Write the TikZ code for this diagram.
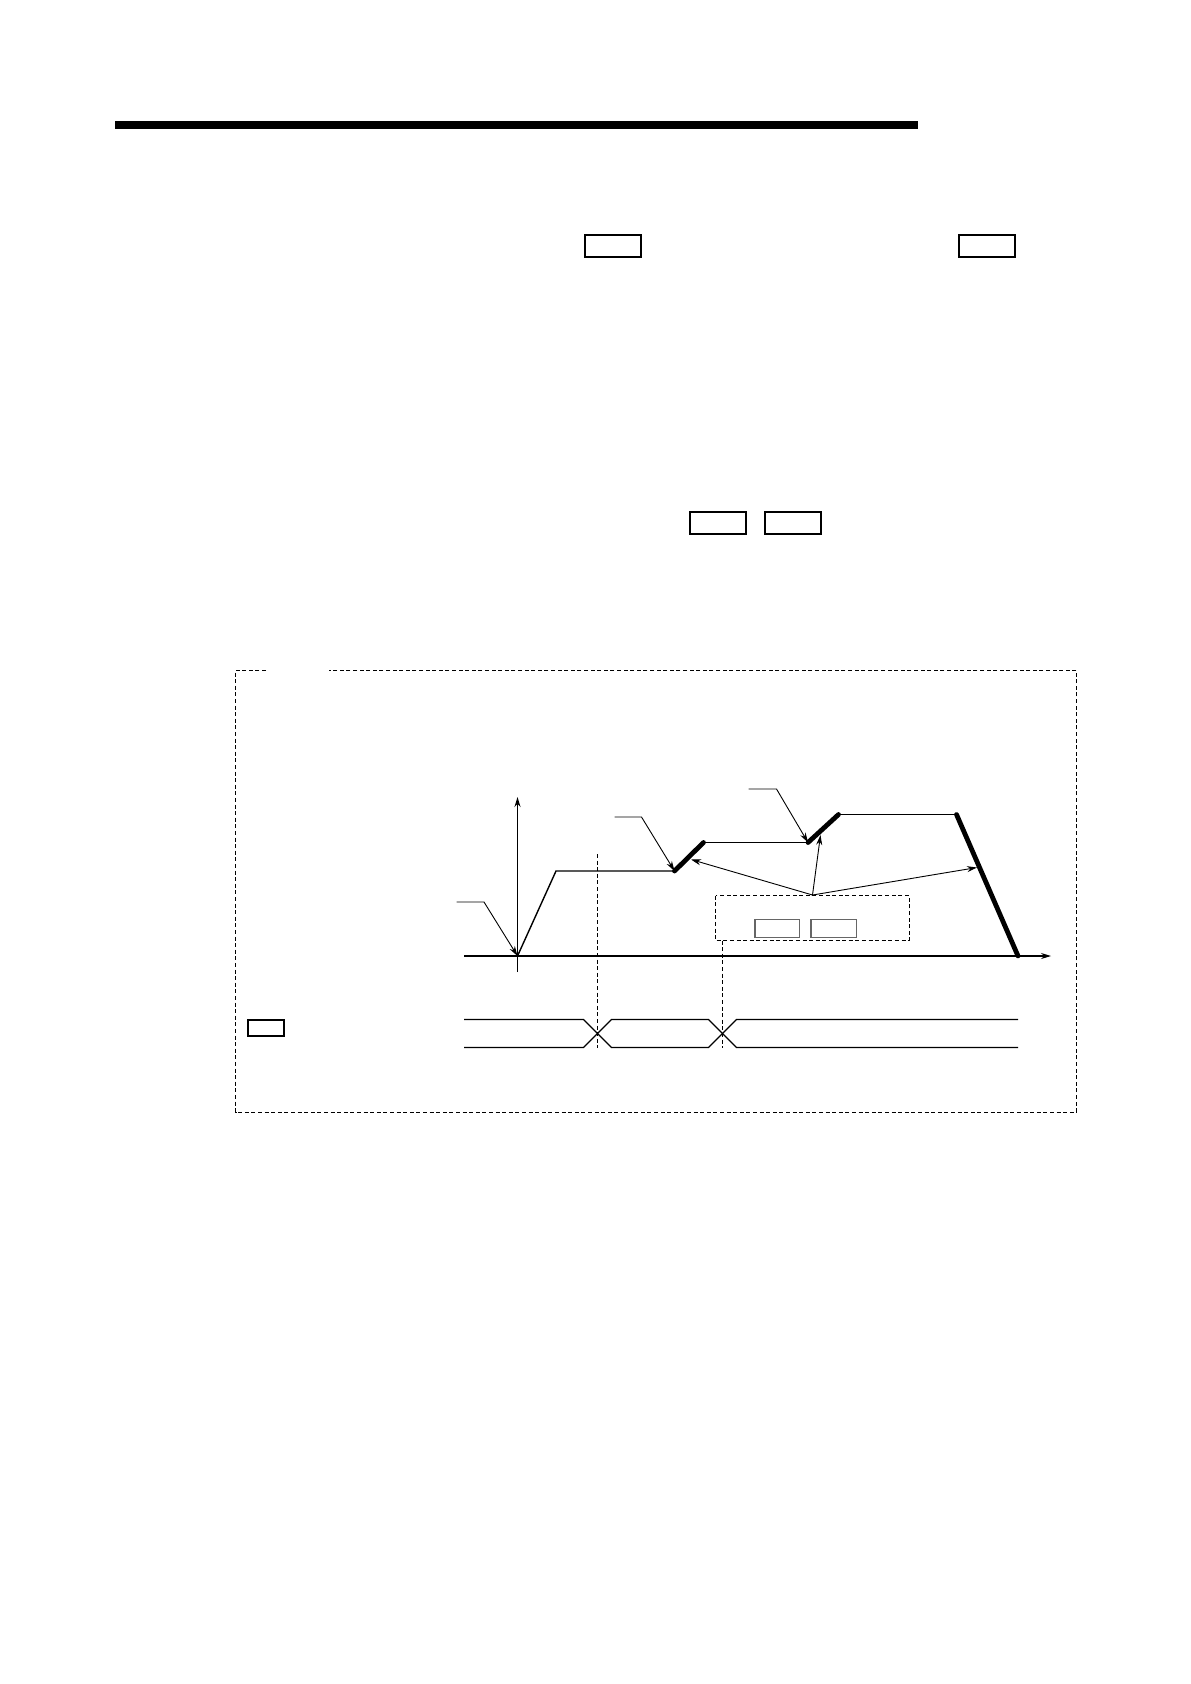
\documentclass[tikz,border=0pt]{standalone}
\usepackage{tikz}
\usetikzlibrary{arrows.meta}
\tikzset{
  keybox/.style={draw,line width=0.6pt},
  greybox/.style={draw=black!60,line width=0.8pt},
  dashline/.style={dash pattern=on 2pt off 1.3pt,line width=0.45pt},
  profile/.style={line width=0.7pt},
  ramp/.style={line width=2.4pt,line cap=round},
  lead/.style={line width=0.45pt}
}
\begin{document}
\begin{tikzpicture}[x=0.5pt,y=-0.5pt,>={Stealth[length=5pt,width=3pt]}]
	\useasboundingbox (0,0) rectangle (1190,1684);
	% heading bar
	\fill (115,121) rectangle (918,129);
	% key boxes in the text
	\draw[keybox] (585,235) rectangle (641,257);
	\draw[keybox] (959,235) rectangle (1015,257);
	\draw[keybox] (690,512) rectangle (746,534);
	\draw[keybox] (765,512) rectangle (821,534);
	% example frame
	\draw[dashline] (266,670) -- (235.5,670) -- (235.5,1112) -- (1076.5,1112) -- (1076.5,670) -- (329,670);
	\draw[keybox] (248,1020) rectangle (284,1036);
	% axes
	\coordinate (O) at (517.5,956);
	\draw[->,line width=0.6pt] (517.5,972) -- (517.5,797);
	\draw[->,line width=0.6pt] (464,956) -- (1051,956);
	% speed profile
	\coordinate (p1) at (556,871);
	\coordinate (p2) at (674.5,871);
	\coordinate (p3) at (703.5,842.5);
	\coordinate (p4) at (808,842.5);
	\coordinate (p5) at (838.5,814.5);
	\coordinate (p6) at (956.5,814.5);
	\coordinate (p7) at (1018,956);
	\draw[profile] (O) -- (p1) -- (p2);
	\draw[profile] (p3) -- (p4);
	\draw[profile] (p5) -- (p6);
	\draw[ramp] (p2) -- (p3);
	\draw[ramp] (p4) -- (p5);
	\draw[ramp] (p6) -- (p7);
	% lead lines
	\draw[lead,->] (456.5,902) -- (484,902) -- (O);
	\draw[lead,->] (614.5,817) -- (641.5,817) -- (p2);
	\draw[lead,->] (748.5,789) -- (776.5,789) -- (p4);
	% dashed note box
	\draw[dashline] (715.5,895.5) rectangle (909,940.5);
	\draw[greybox] (755,919.5) rectangle (799.5,937.5);
	\draw[greybox] (811,919.5) rectangle (856.5,937.5);
	\coordinate (hub) at (812.5,895);
	\foreach \t in {{(691,859.5)},{(820.5,835)},{(977,867.5)}}
		\draw[lead,->] (hub) -- \t;
	% timing lines
	\draw[dashline] (597.5,854) -- (597.5,1048);
	\draw[dashline] (722,940.5) -- (722,1048);
	\draw[line width=0.6pt] (464,1019.5) -- (583.5,1019.5) -- (611.5,1047.5) -- (708.5,1047.5) -- (736.5,1019.5) -- (1018,1019.5);
	\draw[line width=0.6pt] (464,1047.5) -- (583.5,1047.5) -- (611.5,1019.5) -- (708.5,1019.5) -- (736.5,1047.5) -- (1018,1047.5);
\end{tikzpicture}
\end{document}
